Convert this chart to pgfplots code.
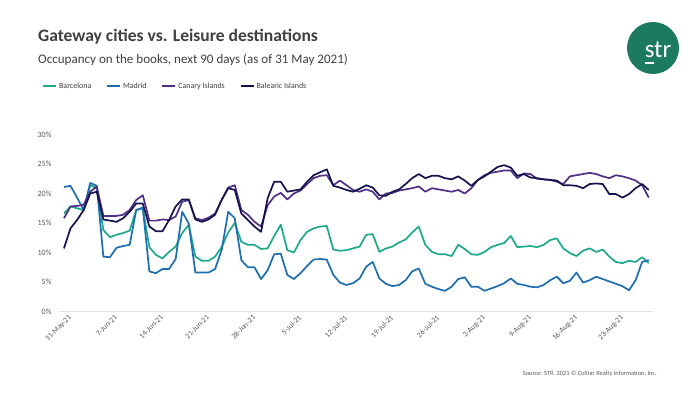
\documentclass[border=0pt]{standalone}
\usepackage{pgfplots}
\pgfplotsset{compat=1.18}
\usepackage{pgfplotstable}
\usepackage{fontspec}
\setmainfont{Carlito}
\definecolor{bcn}{RGB}{30,168,140}
\definecolor{mad}{RGB}{30,110,178}
\definecolor{can}{RGB}{80,48,135}
\definecolor{bal}{RGB}{22,18,78}
\definecolor{strgreen}{RGB}{28,122,96}
\definecolor{txt}{RGB}{64,64,64}
\definecolor{tickc}{RGB}{89,89,89}
\pgfplotstableread{
d bcn mad can bal
0 16.6 21.1 15.8 10.7
1 17.8 21.3 17.8 14.1
2 17.5 19.3 17.9 15.5
3 17.2 17.2 18.1 17.2
4 21.4 21.8 20.3 20.0
5 20.9 21.3 21.2 20.3
6 13.8 9.3 16.2 15.6
7 12.6 9.2 16.2 15.4
8 13.0 10.8 16.2 15.2
9 13.3 11.1 16.4 15.8
10 13.7 11.3 17.2 16.9
11 17.2 17.2 18.9 18.3
12 17.5 17.6 19.7 18.3
13 10.9 6.8 15.4 14.4
14 9.6 6.5 15.4 13.6
15 9.0 7.2 15.6 13.6
16 10.1 7.2 15.5 15.5
17 11.0 8.9 16.1 17.8
18 13.3 16.9 18.6 19.0
19 14.7 14.9 18.9 19.0
20 9.3 6.6 15.8 15.6
21 8.6 6.6 15.5 15.2
22 8.6 6.6 15.9 15.6
23 9.3 7.2 16.6 16.4
24 10.9 10.4 18.9 18.9
25 13.4 16.9 21.0 20.9
26 15.0 15.8 21.4 20.6
27 11.8 8.7 17.2 16.6
28 11.3 7.5 16.4 15.5
29 11.3 7.5 15.2 14.4
30 10.6 5.5 14.4 13.5
31 10.7 7.0 18.0 19.2
32 12.8 9.7 19.5 22.0
33 14.7 9.8 20.1 22.0
34 10.4 6.2 19.0 20.3
35 10.0 5.5 20.0 20.5
36 12.1 6.5 20.5 20.7
37 13.5 7.7 21.6 22.0
38 14.1 8.8 22.6 23.1
39 14.4 8.9 23.0 23.6
40 14.5 8.8 23.1 24.1
41 10.5 6.2 21.4 21.3
42 10.3 4.9 22.2 21.0
43 10.4 4.5 21.4 20.6
44 10.7 4.8 20.6 20.3
45 11.0 5.6 20.3 20.8
46 13.0 7.6 20.7 21.4
47 13.1 8.4 20.3 21.0
48 10.1 5.6 19.0 19.7
49 10.7 4.7 20.0 19.6
50 11.0 4.3 20.1 20.3
51 11.7 4.5 20.5 20.7
52 12.2 5.3 20.7 21.6
53 13.4 6.8 20.9 22.6
54 14.4 7.3 21.2 23.3
55 11.3 4.7 20.3 22.6
56 10.1 4.2 20.9 23.0
57 9.7 3.8 20.7 23.0
58 9.7 3.5 20.5 22.6
59 9.4 4.2 20.3 22.4
60 11.3 5.5 20.6 22.9
61 10.6 5.8 20.0 22.2
62 9.7 4.2 20.9 21.3
63 9.6 4.2 22.3 22.3
64 10.1 3.5 23.1 22.9
65 10.9 3.9 23.5 23.7
66 11.3 4.3 23.7 24.5
67 11.6 4.8 23.9 24.8
68 12.8 5.6 23.9 24.4
69 10.9 4.7 22.6 23.0
70 11.0 4.5 23.4 23.3
71 11.1 4.2 23.3 22.7
72 10.9 4.1 22.5 22.6
73 11.3 4.5 22.4 22.4
74 12.1 5.3 22.3 22.3
75 12.4 5.9 22.0 22.2
76 10.7 4.8 21.6 21.4
77 9.9 5.2 22.9 21.4
78 9.4 6.6 23.1 21.3
79 10.3 4.9 23.3 20.9
80 10.7 5.3 23.5 21.6
81 10.1 5.9 23.3 21.7
82 10.5 5.5 22.9 21.6
83 9.3 5.1 22.6 19.9
84 8.4 4.7 23.1 19.9
85 8.2 4.3 22.9 19.3
86 8.6 3.6 22.6 19.9
87 8.4 5.3 22.2 20.9
88 9.2 8.4 21.4 21.6
89 8.2 8.7 19.3 20.6
}\occ
\begin{document}
\begin{tikzpicture}[x=1bp,y=1bp]
\path[use as bounding box, fill=white] (0,0) rectangle (700,394);
\node[anchor=base west, inner sep=0, text=txt, font=\fontsize{17.6}{20}\selectfont\bfseries] at (38,353) {Gateway cities vs. Leisure destinations};
\node[anchor=base west, inner sep=0, text=txt, font=\fontsize{13.1}{15}\selectfont] at (38,331) {Occupancy on the books, next 90 days (as of 31 May 2021)};
\fill[strgreen] (653,346) circle (26);
\node[anchor=base, inner sep=0, text=white, font=\fontsize{25}{25}\selectfont] at (658,337) {str};
\fill[white] (645,329.8) rectangle (654,331.8);
\node[anchor=base east, inner sep=0, text=tickc, font=\fontsize{6.4}{7}\selectfont] at (657,19) {Source: STR. 2021 \textcopyright{} CoStar Realty Information, Inc.};
\begin{axis}[
  at={(60bp,82.5bp)}, anchor=south west, scale only axis,
  width=592bp, height=177bp,
  xmin=-0.6, xmax=89.5, ymin=0, ymax=30,
  axis x line*=bottom, axis y line*=left,
  y axis line style={draw=none},
  x axis line style={draw=black!12, line width=0.8bp},
  tick style={draw=none},
  xtick={0,7,...,84},
  xticklabels={31-May-21,7-Jun-21,14-Jun-21,21-Jun-21,28-Jun-21,5-Jul-21,12-Jul-21,19-Jul-21,26-Jul-21,2-Aug-21,9-Aug-21,16-Aug-21,23-Aug-21},
  ytick={0,5,...,30},
  yticklabel={\pgfmathprintnumber{\tick}\%},
  /pgf/number format/assume math mode=true,
  ticklabel style={text=tickc, font=\fontsize{8}{9}\selectfont},
  yticklabel style={xshift=-5bp},
  xticklabel style={rotate=45, anchor=north east, inner sep=1bp, font=\fontsize{7.6}{9}\selectfont, xshift=2bp, yshift=-4bp},
  legend style={at={(-0.03,1.274)}, anchor=west, draw=none, fill=none, legend columns=4,
     font=\fontsize{8}{9}\selectfont, text=txt, inner sep=0pt,
     /tikz/every even column/.append style={column sep=13bp}},
  legend image code/.code={\draw[#1] (0bp,0bp) -- (13bp,0bp);},
  every axis plot/.append style={line width=1.7bp, line join=round},
  clip=false,
]
\addplot[bcn] table[x=d, y=bcn] {\occ};
\addplot[mad] table[x=d, y=mad] {\occ};
\addplot[can] table[x=d, y=can] {\occ};
\addplot[bal] table[x=d, y=bal] {\occ};
\legend{Barcelona, Madrid, Canary Islands, Balearic Islands}
\end{axis}
\end{tikzpicture}
\end{document}
